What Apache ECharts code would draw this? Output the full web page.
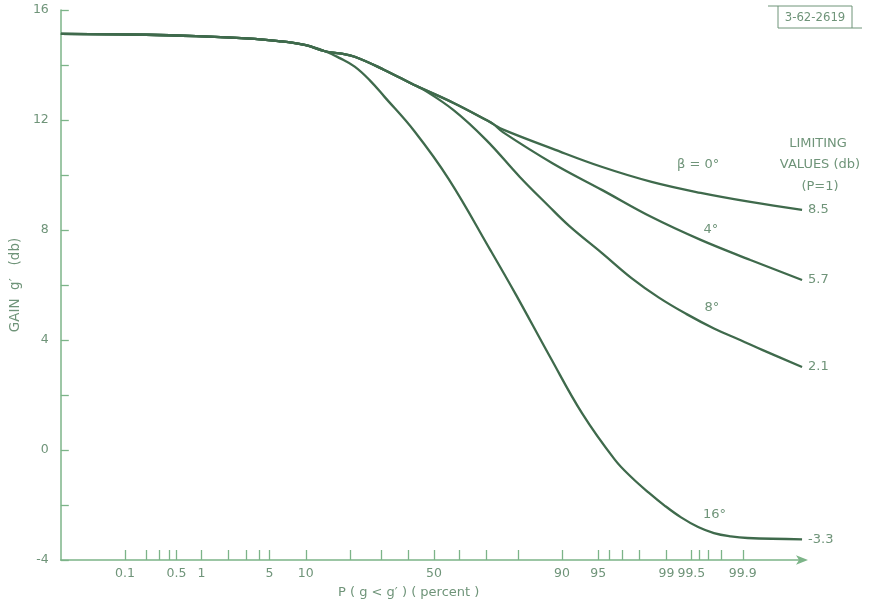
<!DOCTYPE html>
<html><head><meta charset="utf-8">
<script src="https://cdn.jsdelivr.net/npm/echarts@6/dist/echarts.min.js"></script>
<style>html,body{margin:0;padding:0;background:#fff}#c{width:872px;height:607px}</style>
</head><body><div id="c"></div>
<script>
// x: P(g < g') in percent ; y: gain g' in db
const commonP = [0.0095, 0.2, 0.87, 3, 6, 10, 13.8];
const commonG = [15.13, 15.1, 15.05, 14.97, 14.87, 14.72, 14.5];
const upperP = [17.3, 21.4, 31, 42.2, 44.9];
const upperG = [14.42, 14.3, 13.82, 13.27, 13.16];
const midP = [57.8, 70, 72.4];
const midG = [12.62, 12.0, 11.85];
const b0P = [75.6, 88.3, 95.4, 98.53, 99.62, 99.923, 99.9885];
const b0G = [11.65, 10.95, 10.29, 9.75, 9.35, 9.02, 8.73];
const b4P = [75.6, 88.3, 95.4, 98.53, 99.62, 99.923, 99.9885];
const b4G = [11.55, 10.42, 9.45, 8.47, 7.64, 6.91, 6.18];
const b8P = [57.8, 70, 80.5, 87.3, 91.2, 95.4, 97.6, 98.77, 99.42, 99.746, 99.893, 99.95, 99.9885];
const b8G = [12.36, 11.27, 9.93, 8.9, 8.15, 7.15, 6.25, 5.55, 4.95, 4.42, 3.99, 3.63, 3.02];
const b16P = [17.3, 21.4, 26.0, 31, 42.2, 55.9, 71.4, 79.4, 87.7, 93.1, 96.5, 97.61, 98.42, 98.95, 99.33, 99.59, 99.746, 99.851, 99.915, 99.9885];
const b16G = [14.25, 13.94, 13.45, 12.85, 11.6, 9.85, 7.27, 5.65, 3.4, 1.33, -0.36, -1.0, -1.55, -2.02, -2.45, -2.8, -3.02, -3.14, -3.2, -3.25];
const limitLabels = ['8.5', '5.7', '2.1', '-3.3'];
const angleLabels = ['\u03B2 = 0\u00B0', '4\u00B0', '8\u00B0', '16\u00B0'];
const xTickP = [0.1,0.2,0.3,0.4,0.5,1,2,3,4,5,10,20,30,40,50,60,70,80,90,95,96,97,98,99,99.5,99.6,99.7,99.8,99.9];
const xLabelP = [0.1,0.5,1,5,10,50,90,95,99,99.5,99.9];
const xLabelText = ['0.1','0.5','1','5','10','50','90','95','99','99.5','99.9'];

function probit(p){
  const a=[-3.969683028665376e+01,2.209460984245205e+02,-2.759285104469687e+02,1.383577518672690e+02,-3.066479806614716e+01,2.506628277459239e+00];
  const b=[-5.447609879822406e+01,1.615858368580409e+02,-1.556989798598866e+02,6.680131188771972e+01,-1.328068155288572e+01];
  const c=[-7.784894002430293e-03,-3.223964580411365e-01,-2.400758277161838e+00,-2.549732539343734e+00,4.374664141464968e+00,2.938163982698783e+00];
  const d=[7.784695709041462e-03,3.224671290700398e-01,2.445134137142996e+00,3.754408661907416e+00];
  const pl=0.02425, ph=1-pl; let q,r;
  if(p<pl){q=Math.sqrt(-2*Math.log(p));return (((((c[0]*q+c[1])*q+c[2])*q+c[3])*q+c[4])*q+c[5])/((((d[0]*q+d[1])*q+d[2])*q+d[3])*q+1);}
  if(p<=ph){q=p-0.5;r=q*q;return (((((a[0]*r+a[1])*r+a[2])*r+a[3])*r+a[4])*r+a[5])*q/(((((b[0]*r+b[1])*r+b[2])*r+b[3])*r+b[4])*r+1);}
  q=Math.sqrt(-2*Math.log(1-p));return -(((((c[0]*q+c[1])*q+c[2])*q+c[3])*q+c[4])*q+c[5])/((((d[0]*q+d[1])*q+d[2])*q+d[3])*q+1);
}
const z = p => probit(p/100);
function pts(P, G){ return P.map((p,i)=>[z(p), G[i]]); }

const AXIS = '#7cb488', TEXT = '#6f9479', LINE = '#3f6a4c';
const FONT = 'DejaVu Sans';

const s0 = pts(commonP.concat(upperP, midP, b0P), commonG.concat(upperG, midG, b0G));
const s4 = pts(commonP.concat(upperP, midP, b4P), commonG.concat(upperG, midG, b4G));
const s8 = pts(commonP.concat(upperP, b8P), commonG.concat(upperG, b8G));
const s16 = pts(commonP.concat(b16P), commonG.concat(b16G));

const annoPos = [[99.59, 10.36], [99.72, 8.0], [99.73, 5.16], [99.75, -2.36]];

function mkSeries(data, idx){
  return {
    type:'line', data, showSymbol:false, smooth:0.4,
    lineStyle:{color:LINE, width:2.3}, itemStyle:{color:LINE},
    silent:true, z: 3,
    endLabel:{show:true, formatter:limitLabels[idx], color:TEXT, fontSize:13, fontFamily:FONT, distance:6},
    markPoint:{
      symbol:'circle', symbolSize:0, silent:true,
      label:{show:true, position:'inside', formatter:angleLabels[idx], color:TEXT, fontSize:13, fontFamily:FONT},
      data:[{coord:[z(annoPos[idx][0]), annoPos[idx][1]]}]
    }
  };
}

const xLabelZ = xLabelP.map(z);
const chart = echarts.init(document.getElementById('c'), null, {renderer:'canvas'});
chart.setOption({
  animation:false,
  backgroundColor:'#fff',
  grid:{left:53, right:68, top:10, bottom:47, containLabel:false},
  xAxis:{
    type:'value', min:-3.733, max:3.703,
    axisLine:{show:true, onZero:false, symbol:['none','arrow'], symbolSize:[7,12], symbolOffset:[0,4], lineStyle:{color:AXIS, width:1.5}},
    axisTick:{show:true, inside:true, length:10, customValues:xTickP.map(z), lineStyle:{color:AXIS, width:1.3}},
    axisLabel:{show:true, customValues:xLabelZ, margin:7, color:TEXT, fontSize:12.5, fontFamily:FONT, hideOverlap:false,
      formatter:function(v){ let bi=0, bd=1e9; xLabelZ.forEach((zz,i)=>{const d=Math.abs(zz-v); if(d<bd){bd=d;bi=i;}}); return xLabelText[bi]; }},
    splitLine:{show:false}
  },
  yAxis:{
    type:'value', min:-4, max:16, interval:2,
    name:"GAIN  g\u2032   (db)", nameLocation:'middle', nameGap:30, nameRotate:90,
    nameTextStyle:{color:TEXT, fontSize:13.5, fontFamily:FONT},
    axisLine:{show:true, onZero:false, lineStyle:{color:AXIS, width:1.5}},
    axisTick:{show:true, inside:true, length:8, lineStyle:{color:AXIS, width:1.3}},
    axisLabel:{color:TEXT, fontSize:12.5, fontFamily:FONT, margin:12,
      formatter:function(v){ return (v % 4 === 0) ? String(v) : ''; }},
    splitLine:{show:false}
  },
  series:[mkSeries(s0,0), mkSeries(s4,1), mkSeries(s8,2), mkSeries(s16,3)],
  graphic:[
    {type:'text', left:338, top:586, style:{text:"P ( g < g\u2032 ) ( percent )", fill:TEXT, fontSize:13, fontFamily:FONT}},
    {type:'text', x:818, y:144, style:{text:'LIMITING', fill:TEXT, fontSize:13, fontFamily:FONT, align:'center', verticalAlign:'middle'}},
    {type:'text', x:820, y:165, style:{text:'VALUES (db)', fill:TEXT, fontSize:13, fontFamily:FONT, align:'center', verticalAlign:'middle'}},
    {type:'text', x:820, y:187, style:{text:'(P=1)', fill:TEXT, fontSize:13, fontFamily:FONT, align:'center', verticalAlign:'middle'}},
    {type:'line', shape:{x1:768, y1:6, x2:852, y2:6}, style:{stroke:TEXT, lineWidth:1}},
    {type:'line', shape:{x1:778, y1:6, x2:778, y2:28}, style:{stroke:TEXT, lineWidth:1}},
    {type:'line', shape:{x1:852, y1:6, x2:852, y2:28}, style:{stroke:TEXT, lineWidth:1}},
    {type:'line', shape:{x1:778, y1:28, x2:862, y2:28}, style:{stroke:TEXT, lineWidth:1}},
    {type:'text', x:815, y:18, style:{text:'3-62-2619', fill:TEXT, fontSize:13, fontFamily:'Liberation Sans Narrow, DejaVu Sans Condensed, DejaVu Sans', align:'center', verticalAlign:'middle'}}
  ]
});
</script>
</body></html>
